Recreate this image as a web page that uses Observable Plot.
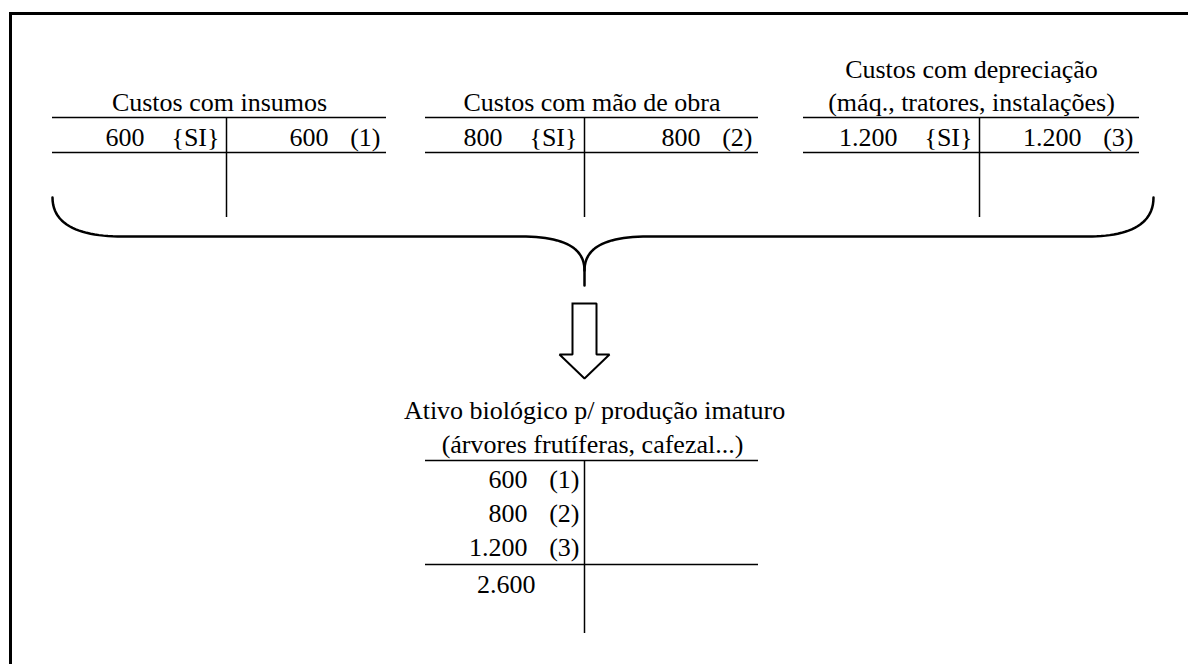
<!DOCTYPE html>
<html><head><meta charset="utf-8">
<script src="https://cdn.jsdelivr.net/npm/d3@7"></script>
<script src="https://cdn.jsdelivr.net/npm/@observablehq/plot@0.6"></script>
<style>html,body{margin:0;padding:0;background:#fff} svg{display:block} svg text{font-family:"Liberation Serif","Times New Roman",serif !important}</style>
</head><body><div id="chart"></div>
<script>
// ---- data ----
const accountTitles = [
  ["Custos com insumos"],
  ["Custos com mão de obra"],
  ["Custos com depreciação", "(máq., tratores, instalações)"]
];
const openingBalances = [600, 800, 1200];
const openingLabel = "{SI}";
const transferValues = [600, 800, 1200];
const transferRefs = ["(1)", "(2)", "(3)"];
const targetTitle = ["Ativo biológico p/ produção imaturo", "(árvores frutíferas, cafezal...)"];
const targetDebits = [600, 800, 1200];
const targetRefs = ["(1)", "(2)", "(3)"];
const targetBalance = 2600;

const fmt = d3.formatLocale({decimal: ",", thousands: ".", grouping: [3], currency: ["R$", ""]}).format(",d");

// ---- layout ----
const W = 1188, H = 664;
const FONT = "Liberation Serif";
const topAccts = [
  {x1: 52, x2: 386, mid: 226, cx: 219},
  {x1: 425, x2: 758, mid: 584, cx: 591.5},
  {x1: 803, x2: 1139, mid: 979, cx: 971}
];
const topY = 117, rowLineY = 152, vEnd = 217, rowBase = 145, titleBase = 110, titleLead = 33;
const bot = {x1: 425, x2: 758, mid: 584, cx: 592, topY: 460, sumY: 564, vEnd: 633,
             titleBase: 452, titleLead: 34, rowBase: 487, rowStep: 34, totalBase: 592};

const midTexts = [], endTexts = [], hLines = [], vLines = [];
accountTitles.forEach((lines, i) => {
  const a = topAccts[i];
  lines.forEach((t, j) => midTexts.push({x: a.cx, y: titleBase - (lines.length - 1 - j) * titleLead, t}));
  endTexts.push({x: a.mid - 82, y: rowBase, t: fmt(openingBalances[i])});
  endTexts.push({x: a.mid - 7, y: rowBase, t: openingLabel});
  endTexts.push({x: a.x2 - 58, y: rowBase, t: fmt(transferValues[i])});
  endTexts.push({x: a.x2 - 6, y: rowBase, t: transferRefs[i]});
  hLines.push({y: topY, x1: a.x1, x2: a.x2});
  hLines.push({y: rowLineY, x1: a.x1, x2: a.x2});
  vLines.push({x: a.mid, y1: topY, y2: vEnd});
});
targetTitle.forEach((t, j) => midTexts.push({x: bot.cx + (j === 0 ? 2 : 0), y: bot.titleBase - (targetTitle.length - 1 - j) * bot.titleLead, t}));
targetDebits.forEach((v, i) => {
  endTexts.push({x: bot.mid - 57, y: bot.rowBase + i * bot.rowStep, t: fmt(v)});
  endTexts.push({x: bot.mid - 5, y: bot.rowBase + i * bot.rowStep, t: targetRefs[i]});
});
endTexts.push({x: bot.mid - 49, y: bot.totalBase, t: fmt(targetBalance)});
hLines.push({y: bot.topY, x1: bot.x1, x2: bot.x2});
hLines.push({y: bot.sumY, x1: bot.x1, x2: bot.x2});
vLines.push({x: bot.mid, y1: bot.topY, y2: bot.vEnd});

// brace geometry (cubic bezier sampling)
function bez(p0, p1, p2, p3, n = 24) {
  const out = [];
  for (let k = 0; k <= n; k++) {
    const t = k / n, u = 1 - t;
    out.push({
      x: u*u*u*p0[0] + 3*u*u*t*p1[0] + 3*u*t*t*p2[0] + t*t*t*p3[0],
      y: u*u*u*p0[1] + 3*u*u*t*p1[1] + 3*u*t*t*p2[1] + t*t*t*p3[1]
    });
  }
  return out;
}
const bY = 236, cX = 584;
const braceL = [
  ...bez([52, 197], [52, 226], [82, bY], [122, bY]),
  ...bez([520, bY], [565, bY], [cX, 248], [cX, 270]),
  {x: cX, y: 285}
];
const braceR = [
  {x: cX, y: 270},
  ...bez([cX, 270], [cX, 248], [603, bY], [648, bY]),
  ...bez([1087, bY], [1125, bY], [1153, 226], [1153, 197])
];
const arrow = [
  {x: 572, y: 303}, {x: 596, y: 303}, {x: 596, y: 354}, {x: 609, y: 354},
  {x: 584, y: 378}, {x: 559, y: 354}, {x: 572, y: 354}, {x: 572, y: 303}
];

const chart = Plot.plot({
  width: W, height: H, margin: 0,
  x: {domain: [0, W], axis: null},
  y: {domain: [0, H], range: [0, H], axis: null},
  style: {fontFamily: FONT, background: "#fff", color: "#000"},
  marks: [
    Plot.ruleY([13], {x1: 9, x2: W, stroke: "#000", strokeWidth: 3}),
    Plot.ruleX([10], {y1: 12, y2: H, stroke: "#000", strokeWidth: 3}),
    Plot.ruleY(hLines, {y: "y", x1: "x1", x2: "x2", stroke: "#000", strokeWidth: 1.5}),
    Plot.ruleX(vLines, {x: "x", y1: "y1", y2: "y2", stroke: "#000", strokeWidth: 1.5}),
    Plot.line(braceL, {x: "x", y: "y", stroke: "#000", strokeWidth: 2.5}),
    Plot.line(braceR, {x: "x", y: "y", stroke: "#000", strokeWidth: 2.5}),
    Plot.line(arrow, {x: "x", y: "y", stroke: "#000", strokeWidth: 2, strokeLinejoin: "miter", strokeLinecap: "square"}),
    Plot.text(midTexts, {x: "x", y: "y", text: "t", textAnchor: "middle", lineAnchor: "bottom", fontSize: 26, fontFamily: FONT, fill: "#000"}),
    Plot.text(endTexts, {x: "x", y: "y", text: "t", textAnchor: "end", lineAnchor: "bottom", fontSize: 26, fontFamily: FONT, fill: "#000"})
  ]
});
document.getElementById("chart").appendChild(chart);
</script>
</body></html>
